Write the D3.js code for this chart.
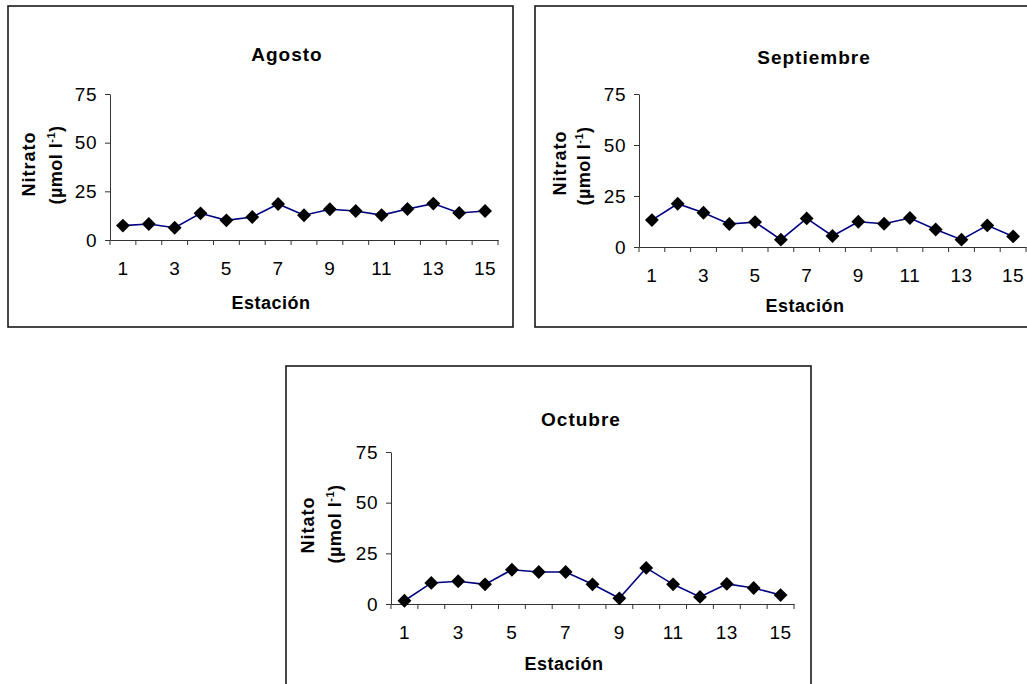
<!DOCTYPE html>
<html>
<head>
<meta charset="utf-8">
<script src="https://cdn.jsdelivr.net/npm/d3@7/dist/d3.min.js"></script>
<style>
  html, body { margin: 0; padding: 0; background: #fff; }
  svg { display: block; font-family: "Liberation Sans", Arial, sans-serif; }
</style>
</head>
<body>
<svg id="chart" width="1027" height="684"></svg>
<script>
// Nitrate concentration (µmol l-1) at 15 stations, one panel per month
const stations = d3.range(1, 16);
const xTickLabels = ["1", "", "3", "", "5", "", "7", "", "9", "", "11", "", "13", "", "15"];
const yTicks = [0, 25, 50, 75];
const months = ["Agosto", "Septiembre", "Octubre"];
const yLabels = ["Nitrato", "Nitrato", "Nitato"];
const agosto     = [7.4, 8.2, 6.3, 13.7, 10.1, 11.8, 18.5, 12.7, 15.8, 14.9, 12.8, 15.9, 18.7, 13.9, 14.9];
const septiembre = [13.2, 21.2, 16.8, 11.3, 12.2, 3.6, 14.0, 5.4, 12.4, 11.4, 14.2, 8.6, 3.6, 10.6, 5.2];
const octubre    = [1.6, 10.4, 11.2, 9.7, 16.9, 15.8, 15.8, 9.7, 2.8, 17.8, 9.7, 3.5, 9.9, 7.9, 4.4];
const seriesByMonth = [agosto, septiembre, octubre];

// Panel geometry: frame box, plot area, and label anchors
const layout = [
  { frame: [8, 6, 513, 327], plot: { x0: 110, x1: 498, yTop: 94, y0: 240 },
    title: [287, 61], yl1: [35, 164], yl2: [62, 165], xl: [271, 309] },
  { frame: [535, 6, 1040, 327], plot: { x0: 639, x1: 1026, yTop: 94, y0: 247 },
    title: [814, 64], yl1: [566, 163], yl2: [590, 166], xl: [805, 312] },
  { frame: [286, 366, 811, 700], plot: { x0: 391, x1: 794, yTop: 452, y0: 604 },
    title: [581, 426], yl1: [314, 525], yl2: [341, 524], xl: [564, 670] }
];

const svg = d3.select("#chart");

months.forEach((month, k) => {
  const L = layout[k];
  const values = seriesByMonth[k];
  const g = svg.append("g");

  // Chart frame
  g.append("rect")
    .attr("x", L.frame[0]).attr("y", L.frame[1])
    .attr("width", L.frame[2] - L.frame[0]).attr("height", L.frame[3] - L.frame[1])
    .attr("fill", "#fff").attr("stroke", "#1a1a1a").attr("stroke-width", 1.6);

  const x = d3.scaleBand().domain(stations).range([L.plot.x0, L.plot.x1]);
  const y = d3.scaleLinear().domain([0, 75]).range([L.plot.y0, L.plot.yTop]);

  // Y axis
  const yAxis = g.append("g")
    .attr("transform", `translate(${L.plot.x0},0)`)
    .call(d3.axisLeft(y).tickValues(yTicks).tickSize(5).tickSizeOuter(0).tickPadding(8));
  yAxis.select(".domain").attr("stroke", "#333");
  yAxis.selectAll(".tick line").attr("stroke", "#333");
  yAxis.selectAll(".tick text")
    .attr("font-size", 19).attr("fill", "#000")
    .attr("font-family", "Liberation Sans, Arial, sans-serif")
    .attr("letter-spacing", "0.5px");

  // X axis: category labels under band centers, tick marks at band edges
  const xAxis = g.append("g")
    .attr("transform", `translate(0,${L.plot.y0})`)
    .call(d3.axisBottom(x).tickSize(0).tickSizeOuter(0).tickPadding(22)
      .tickFormat((d, i) => xTickLabels[i]));
  xAxis.select(".domain").attr("stroke", "#333");
  xAxis.selectAll(".tick text")
    .attr("font-size", 19).attr("fill", "#000")
    .attr("font-family", "Liberation Sans, Arial, sans-serif")
    .attr("letter-spacing", "0.5px");
  xAxis.selectAll(".edge")
    .data(d3.range(stations.length + 1))
    .join("line")
    .attr("class", "edge")
    .attr("x1", i => L.plot.x0 + i * x.step())
    .attr("x2", i => L.plot.x0 + i * x.step())
    .attr("y1", 0).attr("y2", 5)
    .attr("stroke", "#333");

  // Series line
  const line = d3.line()
    .x((d, i) => x(stations[i]) + x.bandwidth() / 2)
    .y(d => y(d));
  g.append("path")
    .datum(values)
    .attr("d", line)
    .attr("fill", "none")
    .attr("stroke", "#000080")
    .attr("stroke-width", 1.6);

  // Diamond markers
  const diamond = d3.symbol(d3.symbolSquare, 96);
  g.selectAll(".pt")
    .data(values)
    .join("path")
    .attr("class", "pt")
    .attr("d", diamond)
    .attr("transform", (d, i) => `translate(${x(stations[i]) + x.bandwidth() / 2},${y(d)}) rotate(45)`)
    .attr("fill", "#000");

  // Title
  g.append("text")
    .attr("x", L.title[0]).attr("y", L.title[1])
    .attr("text-anchor", "middle")
    .attr("font-size", 19).attr("font-weight", "bold")
    .attr("letter-spacing", "1px")
    .text(month);

  // Y axis title (two lines)
  g.append("text")
    .attr("transform", `translate(${L.yl1[0]},${L.yl1[1]}) rotate(-90)`)
    .attr("text-anchor", "middle")
    .attr("font-size", 18).attr("font-weight", "bold")
    .attr("letter-spacing", "1px")
    .text(yLabels[k]);
  const unit = g.append("text")
    .attr("transform", `translate(${L.yl2[0]},${L.yl2[1]}) rotate(-90)`)
    .attr("text-anchor", "middle")
    .attr("font-size", 18).attr("font-weight", "bold")
    .attr("letter-spacing", "0.5px");
  unit.append("tspan").text("(µmol l");
  unit.append("tspan").attr("dy", -7).attr("font-size", 11).text("-1");
  unit.append("tspan").attr("dy", 7).text(")");

  // X axis title
  g.append("text")
    .attr("x", L.xl[0]).attr("y", L.xl[1])
    .attr("text-anchor", "middle")
    .attr("font-size", 18).attr("font-weight", "bold")
    .attr("letter-spacing", "0.5px")
    .text("Estación");
});
</script>
</body>
</html>
